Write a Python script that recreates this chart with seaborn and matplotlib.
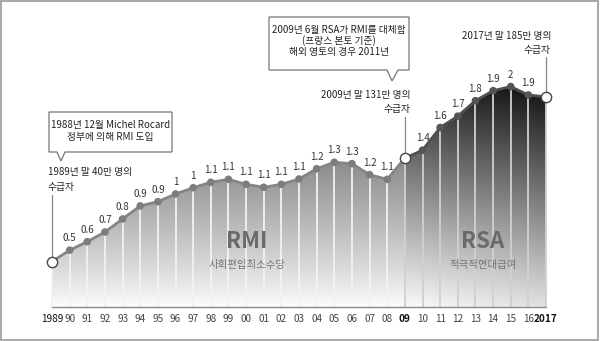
import numpy as np
import pandas as pd
import matplotlib
matplotlib.use("Agg")
import matplotlib.pyplot as plt
import seaborn as sns
from matplotlib.patches import Rectangle, Polygon

sns.set_theme(style="white")
plt.rcParams['font.family'] = ['Noto Sans CJK KR', 'DejaVu Sans']

# ---- data (millions of recipients) ----
years = list(range(1989, 2018))
values = [0.40, 0.50, 0.575, 0.66, 0.775, 0.89, 0.927, 0.995, 1.05, 1.098,
          1.124, 1.08, 1.054, 1.08, 1.127, 1.217, 1.274, 1.262, 1.165, 1.124,
          1.31, 1.38, 1.58, 1.68, 1.816, 1.904, 1.94, 1.866, 1.85]
value_labels = ["", "0.5", "0.6", "0.7", "0.8", "0.9", "0.9", "1", "1", "1.1",
                "1.1", "1.1", "1.1", "1.1", "1.1", "1.2", "1.3", "1.3", "1.2", "1.1",
                "", "1.4", "1.6", "1.7", "1.8", "1.9", "2", "1.9", ""]
tick_labels = ["1989", "90", "91", "92", "93", "94", "95", "96", "97", "98", "99",
               "00", "01", "02", "03", "04", "05", "06", "07", "08", "09",
               "10", "11", "12", "13", "14", "15", "16", "2017"]
switch_year = 2009
key_years = [1989, 2009, 2017]

df = pd.DataFrame({"year": years, "value": values})
df["phase"] = np.where(df["year"] <= switch_year, "RMI", "RSA")

fig = plt.figure(figsize=(6.0, 3.41), dpi=100)
ax = fig.add_axes([0, 0, 1, 1])
px_per_year = (546 - 52) / 28.0
ax.set_xlim(1989 - 52 / px_per_year, 1989 + (600 - 52) / px_per_year)
ax.set_ylim((307 - 341) / 113.6, 307 / 113.6)
ax.axis("off")

# ---- gradient fills ----
def grad_fill(x0, x1, func):
    sub = df[(df.year >= x0) & (df.year <= x1)]
    xs = sub.year.values.astype(float)
    ys = sub.value.values
    verts = [(x0, 0)] + list(zip(xs, ys)) + [(x1, 0), (x0, 0)]
    poly = Polygon(verts, closed=True, facecolor="none", edgecolor="none")
    ax.add_patch(poly)
    nx, ny = 200, 200
    gx = np.linspace(x0, x1, nx)
    gy = np.linspace(2.1, 0, ny)
    X, Y = np.meshgrid(gx, gy)
    G = np.clip(func(X, Y), 0, 1)
    img = ax.imshow(np.dstack([G, G, G]), extent=[x0, x1, 0, 2.1], aspect="auto",
                    interpolation="bilinear", zorder=1)
    img.set_clip_path(poly)

grad_fill(1989, switch_year, lambda X, Y: 0.99 - 0.43 * (Y / 1.25) ** 0.9)
grad_fill(switch_year, 2017, lambda X, Y: 0.88 - 0.80 * (Y / 1.9) + 0.10 * (2017 - X) / 8)

# vertical light lines at each year
for yr, v in zip(years, values):
    c = "#f2f2f2" if yr < switch_year else "#d0d0d0"
    ax.plot([yr, yr], [0, v], color=c, lw=1.3, zorder=2)

# axis baseline
ax.plot([1989, 2017], [0, 0], color="#8a8a8a", lw=1.0, zorder=3)

# ---- line and points via seaborn ----
rmi = df[df.year <= switch_year]
rsa = df[df.year >= switch_year]
sns.lineplot(data=rmi, x="year", y="value", color="#858585", lw=2.0, ax=ax, zorder=4)
sns.lineplot(data=rsa, x="year", y="value", color="#505050", lw=2.0, ax=ax, zorder=4)
normal = df[~df.year.isin(key_years)]
sns.scatterplot(data=normal, x="year", y="value", hue="phase",
                palette={"RMI": "#7d7d7d", "RSA": "#555555"},
                s=30, edgecolor="none", legend=False, ax=ax, zorder=5)
sns.scatterplot(data=df[df.year.isin(key_years)], x="year", y="value",
                color="white", edgecolor="#444444", linewidth=1.0, s=55,
                legend=False, ax=ax, zorder=6)
ax.set_xlabel("")
ax.set_ylabel("")
ax.axis("off")

# value labels
for yr, v, lab in zip(years, values, value_labels):
    if lab:
        ax.text(yr, v + 12 / 113.6, lab, ha="center", va="center",
                fontsize=7, color="#333333", zorder=7)

# tick labels
for yr, lab in zip(years, tick_labels):
    bold = lab in ("09", "2017")
    ax.text(yr, -11.5 / 113.6, lab, ha="center", va="center", fontsize=7.2,
            color="#111111" if bold or lab == "1989" else "#444444",
            fontweight="bold" if bold else "normal", zorder=7)

def yv(py):
    return (307 - py) / 113.6

def xv(px):
    return 1989 + (px - 52) / px_per_year

# region labels
ax.text(xv(247), yv(242), "RMI", ha="center", va="center", fontsize=16,
        fontweight="bold", color="#6a6a6a", zorder=7)
ax.text(xv(247), yv(265), "사회편입최소수당", ha="center", va="center", fontsize=7.5,
        color="#777777", zorder=7)
ax.text(xv(483), yv(242), "RSA", ha="center", va="center", fontsize=16,
        fontweight="bold", color="#6a6a6a", zorder=7)
ax.text(xv(483), yv(265), "적극적연대급여", ha="center", va="center", fontsize=7.5,
        color="#777777", zorder=7)

# callout leader lines and notes
ax.plot([1989, 1989], [yv(195), values[0] + 0.035], color="#888888", lw=0.9, zorder=3)
ax.text(xv(48), yv(172), "1989년 말 40만 명의", ha="left", va="center", fontsize=7, color="#222222")
ax.text(xv(48), yv(187), "수급자", ha="left", va="center", fontsize=7, color="#222222")

i09 = years.index(2009)
ax.plot([2009, 2009], [yv(117), values[i09] + 0.035], color="#888888", lw=0.9, zorder=3)
ax.text(xv(411), yv(95), "2009년 말 131만 명의", ha="right", va="center", fontsize=7, color="#222222")
ax.text(xv(411), yv(109), "수급자", ha="right", va="center", fontsize=7, color="#222222")

ax.plot([2017, 2017], [yv(57), values[-1] + 0.035], color="#888888", lw=0.9, zorder=3)
ax.text(xv(551), yv(36), "2017년 말 185만 명의", ha="right", va="center", fontsize=7, color="#222222")
ax.text(xv(551), yv(50), "수급자", ha="right", va="center", fontsize=7, color="#222222")

# speech boxes
def pbox(x0, y0, x1, y1, tail_l, tail_r, tip_x, tip_y):
    verts = [(x0, y0), (x1, y0), (x1, y1), (tail_r, y1), (tip_x, tip_y), (tail_l, y1), (x0, y1), (x0, y0)]
    verts = [(xv(a), yv(b)) for a, b in verts]
    p = Polygon(verts, closed=True, facecolor="white", edgecolor="#777777", lw=0.9, zorder=8)
    ax.add_patch(p)

pbox(49, 112, 172, 152, 57, 65, 61, 161)
ax.text(xv(110.5), yv(125), "1988년 12월 Michel Rocard", ha="center", va="center", fontsize=7, color="#222222", zorder=9)
ax.text(xv(110.5), yv(137), "정부에 의해 RMI 도입", ha="center", va="center", fontsize=7, color="#222222", zorder=9)

pbox(269, 17, 409, 70, 387, 398, 392, 81)
ax.text(xv(339), yv(30), "2009년 6월 RSA가 RMI를 대체함", ha="center", va="center", fontsize=7, color="#222222", zorder=9)
ax.text(xv(339), yv(41), "(프랑스 본토 기준)", ha="center", va="center", fontsize=7, color="#222222", zorder=9)
ax.text(xv(339), yv(52), "해외 영토의 경우 2011년", ha="center", va="center", fontsize=7, color="#222222", zorder=9)

# outer frame
fig.patches.append(Rectangle((0.002, 0.004), 0.995, 0.992, transform=fig.transFigure,
                             fill=False, edgecolor="#9a9a9a", lw=1.2))

fig.savefig("out.png", dpi=100)
